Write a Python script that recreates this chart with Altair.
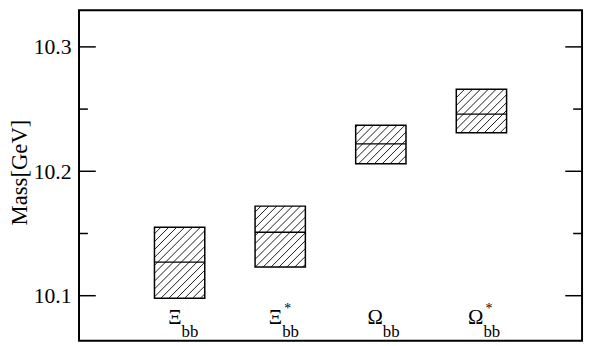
import altair as alt
import pandas as pd
import numpy as np

# ---- data ----
particles = ["Ξ", "Ξ*", "Ω", "Ω*"]
main_sym = ["Ξ", "Ξ", "Ω", "Ω"]
sub_txt = ["bb", "bb", "bb", "bb"]
star_txt = ["", "*", "", "*"]
xpos = [1, 2, 3, 4]
central = [10.127, 10.151, 10.222, 10.246]
upper = [10.155, 10.172, 10.237, 10.266]
lower = [10.098, 10.123, 10.206, 10.231]
major_ticks = [10.1, 10.2, 10.3]
minor_ticks = [10.15, 10.25]

# ---- layout ----
W, H = 510, 335
XD = [0, 5]
YD = [10.0638, 10.3294]
HALF = 0.25
SPACING = 8.0  # hatch spacing in px (horizontal)

kx = W / (XD[1] - XD[0])
ky = H / (YD[1] - YD[0])

boxes = pd.DataFrame({
    "name": particles, "x": xpos, "c": central, "hi": upper, "lo": lower,
})
boxes["x0"] = boxes["x"] - HALF
boxes["x1"] = boxes["x"] + HALF

# hatch segments computed from box extents, converted back to data units
segs = []
for _, r in boxes.iterrows():
    x0p, x1p = (r.x0 - XD[0]) * kx, (r.x1 - XD[0]) * kx
    ub, ut = (r.lo - YD[0]) * ky, (r.hi - YD[0]) * ky
    nmin = int(np.floor((ub - x1p) / SPACING)) - 1
    nmax = int(np.ceil((ut - x0p) / SPACING)) + 1
    for n in range(nmin, nmax + 1):
        c0 = n * SPACING
        xa = max(x0p, ub - c0)
        xb = min(x1p, ut - c0)
        if xb - xa > 0.3:
            segs.append({
                "sx": xa / kx + XD[0], "sx2": xb / kx + XD[0],
                "sy": (xa + c0) / ky + YD[0], "sy2": (xb + c0) / ky + YD[0],
            })
hatch = pd.DataFrame(segs)

labels = pd.DataFrame({"x": xpos, "main": main_sym, "sub": sub_txt, "star": star_txt})
maj = pd.DataFrame({"v": major_ticks})
mnr = pd.DataFrame({"v": minor_ticks})

FONT = "Liberation Serif, 'DejaVu Serif', 'Times New Roman', Times, serif"
xs = alt.Scale(domain=XD, nice=False, zero=False)
ys = alt.Scale(domain=YD, nice=False, zero=False)

yaxis = alt.Axis(values=major_ticks, format=".1f", ticks=False, domain=False, grid=False,
                 labelFont=FONT, labelFontSize=22, labelColor="black", labelPadding=8,
                 title="Mass[GeV]", titleFont=FONT, titleFontSize=23, titleFontWeight="normal",
                 titleColor="black", titleAngle=270, titleAlign="center",
                 titleBaseline="alphabetic", titleX=-53, titleY=164)

base_x = alt.X("x0:Q", scale=xs, axis=None)

hatch_layer = alt.Chart(hatch).mark_rule(color="black", strokeWidth=0.9).encode(
    x=alt.X("sx:Q", scale=xs, axis=None), x2="sx2:Q",
    y=alt.Y("sy:Q", scale=ys, axis=yaxis), y2="sy2:Q",
)

rect_layer = alt.Chart(boxes).mark_rect(fill="white", fillOpacity=0, stroke="black", strokeWidth=1.5).encode(
    x=base_x, x2="x1:Q",
    y=alt.Y("lo:Q", scale=ys), y2="hi:Q",
)

mid_layer = alt.Chart(boxes).mark_rule(color="black", strokeWidth=1.3).encode(
    x=base_x, x2="x1:Q", y=alt.Y("c:Q", scale=ys),
)

tick_l_major = alt.Chart(maj).mark_rule(color="black", strokeWidth=1.5).encode(
    x=alt.value(0), x2=alt.value(17), y=alt.Y("v:Q", scale=ys))
tick_l_minor = alt.Chart(mnr).mark_rule(color="black", strokeWidth=1.5).encode(
    x=alt.value(0), x2=alt.value(9), y=alt.Y("v:Q", scale=ys))
tick_r_major = alt.Chart(maj).mark_rule(color="black", strokeWidth=1.5).encode(
    x=alt.value(W - 17), x2=alt.value(W), y=alt.Y("v:Q", scale=ys))
tick_r_minor = alt.Chart(mnr).mark_rule(color="black", strokeWidth=1.5).encode(
    x=alt.value(W - 9), x2=alt.value(W), y=alt.Y("v:Q", scale=ys))

main_layer = alt.Chart(labels).mark_text(font=FONT, fontSize=21, align="right", baseline="alphabetic",
                                         dx=2, color="black").encode(
    x=alt.X("x:Q", scale=xs), y=alt.value(318), text="main:N")
sub_layer = alt.Chart(labels).mark_text(font=FONT, fontSize=17, align="left", baseline="alphabetic",
                                        dx=2, color="black").encode(
    x=alt.X("x:Q", scale=xs), y=alt.value(331), text="sub:N")
star_layer = alt.Chart(labels).mark_text(font=FONT, fontSize=14, align="left", baseline="alphabetic",
                                         dx=4, color="black").encode(
    x=alt.X("x:Q", scale=xs), y=alt.value(307), text="star:N")

chart = alt.layer(
    hatch_layer, rect_layer, mid_layer,
    tick_l_major, tick_l_minor, tick_r_major, tick_r_minor,
    main_layer, sub_layer, star_layer,
).properties(
    width=W, height=H,
    background="white",
    autosize=alt.AutoSizeParams(type="none"),
    padding={"left": 72, "top": 0, "right": 3, "bottom": 3},
).configure_view(
    stroke="black", strokeWidth=2
)

chart.save("out.html", embed_options={"renderer": "svg", "actions": False})
